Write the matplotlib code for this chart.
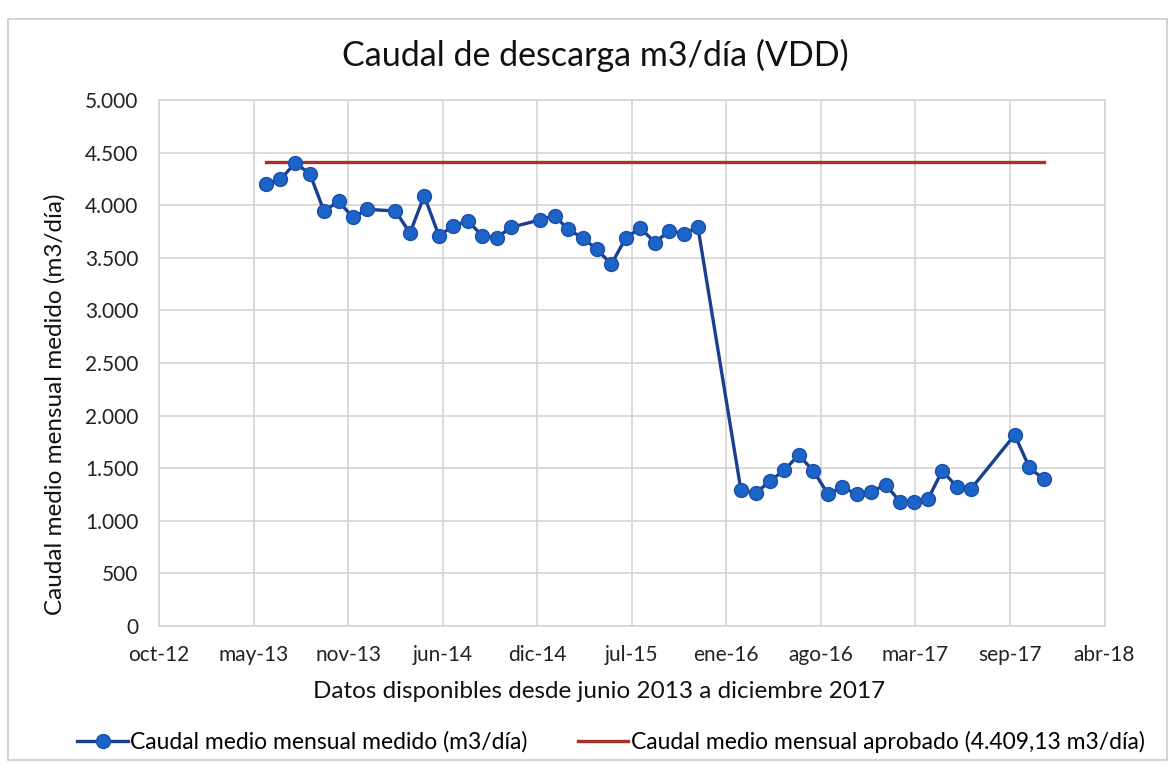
import matplotlib.pyplot as plt
import matplotlib.dates as mdates
import numpy as np
from datetime import date, timedelta

# meses con dato (faltan feb-14, dic-14, ene-16, feb-16, ago-17, sep-17)
meses = ["2013-06", "2013-07", "2013-08", "2013-09", "2013-10", "2013-11", "2013-12",
         "2014-01", "2014-03", "2014-04", "2014-05", "2014-06", "2014-07", "2014-08",
         "2014-09", "2014-10", "2014-11", "2015-01", "2015-02", "2015-03", "2015-04",
         "2015-05", "2015-06", "2015-07", "2015-08", "2015-09", "2015-10", "2015-11",
         "2015-12", "2016-03", "2016-04", "2016-05", "2016-06", "2016-07", "2016-08",
         "2016-09", "2016-10", "2016-11", "2016-12", "2017-01", "2017-02", "2017-03",
         "2017-04", "2017-05", "2017-06", "2017-07", "2017-10", "2017-11", "2017-12"]
caudal = [4200, 4245, 4400, 4300, 3945, 4035, 3885,
          3960, 3945, 3735, 4090, 3710, 3800, 3850,
          3710, 3690, 3790, 3860, 3900, 3770, 3690,
          3580, 3440, 3685, 3785, 3645, 3755, 3730,
          3790, 1290, 1262, 1375, 1483, 1625, 1476,
          1255, 1318, 1255, 1274, 1343, 1179, 1179,
          1210, 1476, 1320, 1305, 1816, 1508, 1394]
aprobado = 4409.13

eje_inicio = date(2012, 10, 17)
paso_dias = 200
etiquetas_x = ["oct-12", "may-13", "nov-13", "jun-14", "dic-14", "jul-15",
               "ene-16", "ago-16", "mar-17", "sep-17", "abr-18"]

plt.rcParams['font.family'] = ['Lato', 'DejaVu Sans']

fechas = [date(int(m[:4]), int(m[5:]), 1) for m in meses]
x = mdates.date2num(fechas)

fig = plt.figure(figsize=(11.75, 7.69), dpi=100)
ax = fig.add_axes([0.1353, 0.186, 0.8047, 0.684])

ax.plot(x, caudal, color="#1B3F8F", linewidth=2.4, marker="o", markersize=10,
        markerfacecolor="#1D64C8", markeredgecolor="#1B4FA8", markeredgewidth=1,
        label="Caudal medio mensual medido (m3/día)", zorder=3)
ax.plot([x[0], x[-1]], [aprobado, aprobado], color="#A8322A", linewidth=2.4,
        label="Caudal medio mensual aprobado (4.409,13 m3/día)", zorder=2)

ticks = [mdates.date2num(eje_inicio + timedelta(days=paso_dias * i)) for i in range(len(etiquetas_x))]
ax.set_xticks(ticks)
ax.set_xticklabels(etiquetas_x)
ax.set_xlim(ticks[0], ticks[-1])

ax.set_ylim(0, 5000)
yt = np.arange(0, 5001, 500)
ax.set_yticks(yt)
ax.set_yticklabels([f"{v:,.0f}".replace(",", ".") for v in yt])

ax.grid(True, color="#D4D4D4", linewidth=1.2)
ax.set_axisbelow(True)
for s in ax.spines.values():
    s.set_color("#D4D4D4")
    s.set_linewidth(1.2)
ax.tick_params(length=0, labelsize=15, colors="#222222")
ax.tick_params(axis="y", pad=15)
ax.tick_params(axis="x", pad=14)

fig.text(0.507, 1 - 55 / 769, "Caudal de descarga m3/día (VDD)", fontsize=24.5,
         ha="center", va="center", color="#111111")
fig.text(55 / 1175, 1 - 404 / 769, "Caudal medio mensual medido (m3/día)", fontsize=17.5,
         rotation=90, ha="center", va="center", color="#111111")
fig.text(599 / 1175, 1 - 692 / 769, "Datos disponibles desde junio 2013 a diciembre 2017",
         fontsize=17.5, ha="center", va="center", color="#111111")

fig.legend(loc="center", bbox_to_anchor=(611 / 1175, 1 - 742 / 769), ncol=2, frameon=False,
           fontsize=16.5, handlelength=2.2, columnspacing=2.2, handletextpad=0.1,
           borderpad=0, borderaxespad=0)

fig.patches.append(plt.Rectangle((0.007, 0.012), 0.986, 0.963, transform=fig.transFigure,
                                 fill=False, edgecolor="#CCCCCC", linewidth=1.2))

fig.savefig("out.png", dpi=100)
